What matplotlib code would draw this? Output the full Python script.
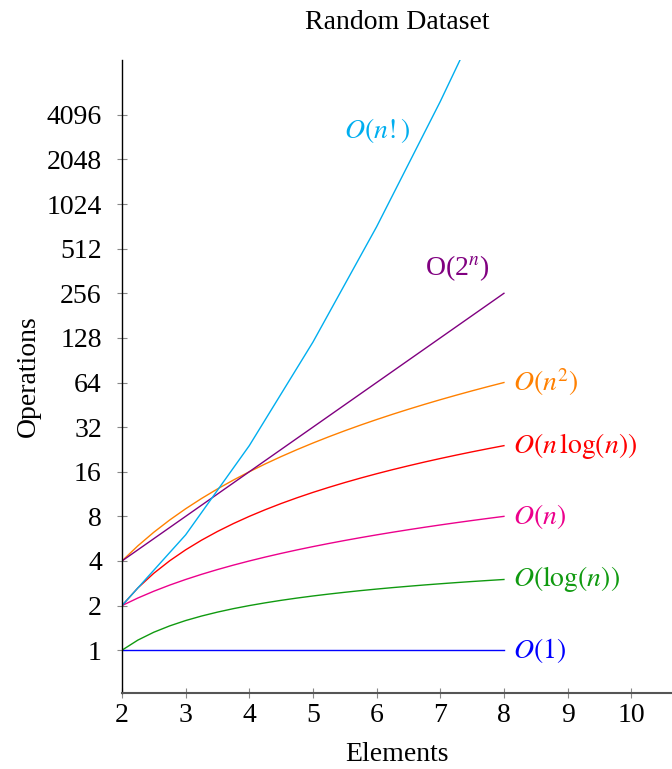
import matplotlib.pyplot as plt

plt.rcParams['font.family'] = ['Liberation Serif', 'DejaVu Serif']
plt.rcParams['mathtext.fontset'] = 'stix'

# sample points
n = [2, 2.25, 2.5, 2.75, 3, 3.25, 3.5, 3.75, 4, 4.25, 4.5, 4.75, 5,
     5.25, 5.5, 5.75, 6, 6.25, 6.5, 6.75, 7, 7.25, 7.5, 7.75, 8]
ops_1 = [1] * len(n)
ops_log = [1, 1.170, 1.322, 1.459, 1.585, 1.700, 1.807, 1.907, 2, 2.087, 2.170,
           2.248, 2.322, 2.392, 2.459, 2.524, 2.585, 2.644, 2.700, 2.755, 2.807,
           2.858, 2.907, 2.954, 3]
ops_n = [2, 2.25, 2.5, 2.75, 3, 3.25, 3.5, 3.75, 4, 4.25, 4.5, 4.75, 5,
         5.25, 5.5, 5.75, 6, 6.25, 6.5, 6.75, 7, 7.25, 7.5, 7.75, 8]
ops_nlog = [2, 2.632, 3.305, 4.013, 4.755, 5.526, 6.326, 7.151, 8, 8.870, 9.765,
            10.678, 11.610, 12.558, 13.527, 14.511, 15.510, 16.525, 17.550,
            18.596, 19.651, 20.720, 21.803, 22.894, 24]
ops_n2 = [4, 5.0625, 6.25, 7.5625, 9, 10.5625, 12.25, 14.0625, 16, 18.0625,
          20.25, 22.5625, 25, 27.5625, 30.25, 33.0625, 36, 39.0625, 42.25,
          45.5625, 49, 52.5625, 56.25, 60.0625, 64]
ops_2n = [4, 4.757, 5.657, 6.727, 8, 9.514, 11.314, 13.454, 16, 19.027, 22.627,
          26.909, 32, 38.055, 45.255, 53.817, 64, 76.109, 90.510, 107.63, 128,
          152.22, 181.02, 215.27, 256]
n_fact = [2, 3, 4, 5, 6, 7, 8]
ops_fact = [2, 6, 24, 120, 720, 5040, 40320]

y_ticks = [1, 2, 4, 8, 16, 32, 64, 128, 256, 512, 1024, 2048, 4096]
x_ticks = [2, 3, 4, 5, 6, 7, 8, 9, 10]

fig = plt.figure(figsize=(6.72, 7.69), dpi=100)
ax = fig.add_axes([0.1815, 0.0988, 0.8185, 0.8232])

lw = 1.0
ax.plot(n, ops_1, color='#0000FF', lw=lw)
ax.plot(n, ops_log, color='#109A10', lw=lw)
ax.plot(n, ops_n, color='#EC008C', lw=lw)
ax.plot(n, ops_nlog, color='#FF0000', lw=lw)
ax.plot(n, ops_n2, color='#FF8000', lw=lw)
ax.plot(n, ops_2n, color='#800080', lw=lw)
ax.plot(n_fact, ops_fact, color='#00AEEF', lw=lw)

fs = 20
lx = 8.15
ax.text(lx, 1, r'$O(1)$', color='#0000FF', fontsize=fs, va='center', ha='left')
ax.text(lx, 3, r'$O(\log(n))$', color='#109A10', fontsize=fs, va='center', ha='left')
ax.text(lx, 8, r'$O(n)$', color='#EC008C', fontsize=fs, va='center', ha='left')
ax.text(lx, 24, r'$O(n\,\log(n))$', color='#FF0000', fontsize=fs, va='center', ha='left')
ax.text(lx, 64, r'$O(n^2)$', color='#FF8000', fontsize=fs, va='center', ha='left')
ax.text(7.27, 378, r'O(2$^n$)', color='#800080', fontsize=fs, va='center', ha='center')
ax.text(6.01, 3236, r'$O(n!)$', color='#00AEEF', fontsize=fs, va='center', ha='center')

ax.set_yscale('log', base=2)
ax.set_xlim(2, 10.64)
ax.set_ylim(2 ** -0.96, 2 ** 13.23)
ax.set_yticks(y_ticks)
ax.set_yticklabels([str(v) for v in y_ticks])
ax.set_xticks(x_ticks)
ax.set_xticklabels([str(v) for v in x_ticks])
ax.minorticks_off()

ax.spines['top'].set_visible(False)
ax.spines['right'].set_visible(False)
ax.spines['left'].set_color('black')
ax.spines['left'].set_linewidth(1.0)
ax.spines['bottom'].set_color('#555555')
ax.spines['bottom'].set_linewidth(1.5)
ax.tick_params(direction='inout', length=7, width=0.8, color='#888888',
               labelsize=fs)
ax.tick_params(axis='x', pad=4)
ax.tick_params(axis='y', pad=11)

ax.set_title('Random Dataset', fontsize=fs, pad=22)
ax.set_xlabel('Elements', fontsize=fs, labelpad=10)
ax.set_ylabel('Operations', fontsize=fs, labelpad=4)

fig.savefig('out.png', dpi=100)
